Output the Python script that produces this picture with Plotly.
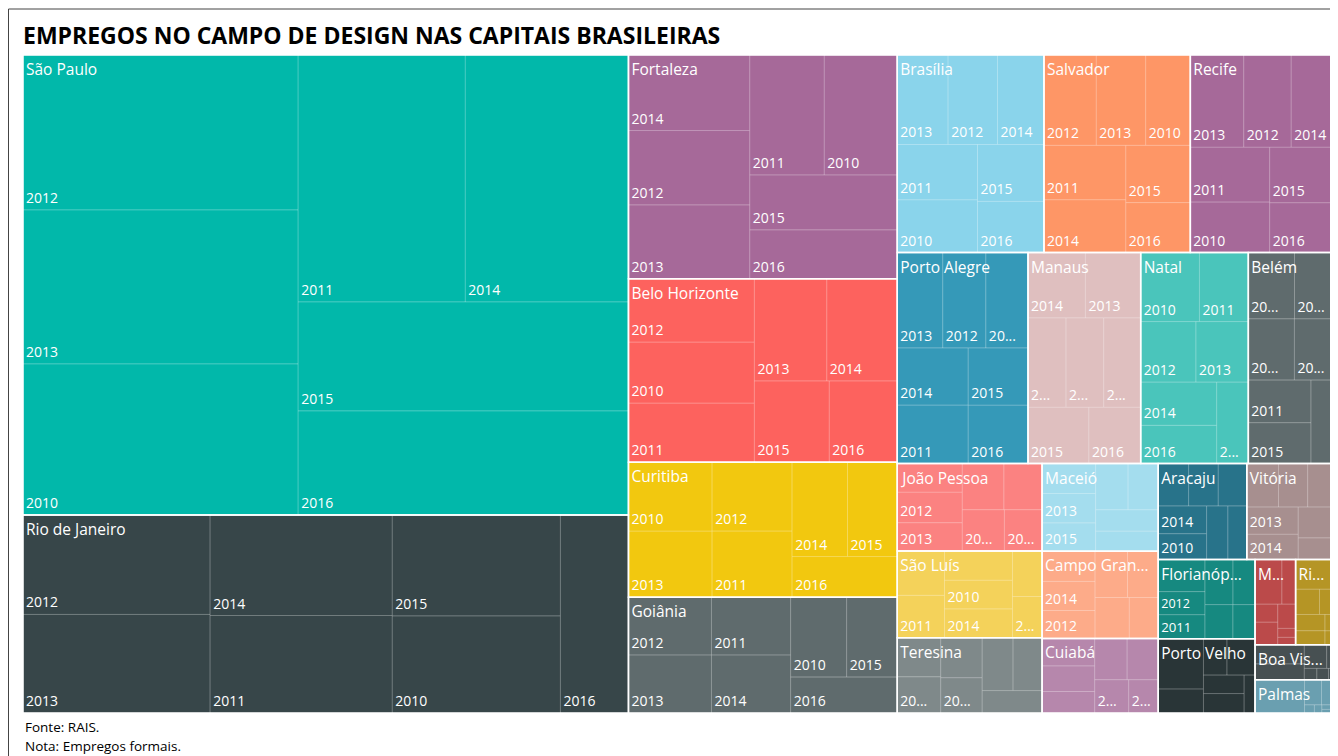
import plotly.graph_objects as go

# capitals in the order the treemap lays them out (largest first)
cities = [
    "São Paulo", "Rio de Janeiro", "Fortaleza", "Belo Horizonte", "Curitiba",
    "Goiânia", "Brasília", "Salvador", "Recife", "Porto Alegre", "Manaus",
    "Natal", "Belém", "João Pessoa", "São Luís", "Teresina", "Maceió",
    "Campo Grande", "Cuiabá", "Aracaju", "Vitória", "Florianópolis",
    "Porto Velho", "Macapá", "Rio Branco", "Boa Vista", "Palmas",
]
# category label as it fits in the tile
city_tags = [
    "São Paulo", "Rio de Janeiro", "Fortaleza", "Belo Horizonte", "Curitiba",
    "Goiânia", "Brasília", "Salvador", "Recife", "Porto Alegre", "Manaus",
    "Natal", "Belém", "João Pessoa", "São Luís", "Teresina", "Maceió",
    "Campo Gran...", "Cuiabá", "Aracaju", "Vitória", "Florianóp...",
    "Porto Velho", "M...", "Ri...", "Boa Vis...", "Palmas",
]
city_colors = [
    "#01B8AA", "#374649", "#A66999", "#FD625E", "#F2C80F",
    "#5F6B6D", "#8AD4EB", "#FE9666", "#A66999", "#3599B8", "#DFBFBF",
    "#4AC5BB", "#5F6B6D", "#FB8281", "#F4D25A", "#7F898A", "#A4DDEE",
    "#FDAB89", "#B687AC", "#28738A", "#A78F8F", "#168980",
    "#293537", "#BB4A4A", "#B59525", "#475052", "#6A9FB0",
]

years = [
    [2012, 2013, 2010, 2011, 2014, 2015, 2016],
    [2012, 2013, 2014, 2011, 2015, 2010, 2016],
    [2014, 2012, 2013, 2011, 2010, 2015, 2016],
    [2012, 2010, 2011, 2013, 2014, 2015, 2016],
    [2010, 2013, 2012, 2011, 2014, 2015, 2016],
    [2012, 2013, 2011, 2014, 2010, 2015, 2016],
    [2013, 2012, 2014, 2011, 2010, 2015, 2016],
    [2012, 2013, 2010, 2011, 2014, 2015, 2016],
    [2013, 2012, 2014, 2011, 2010, 2015, 2016],
    [2013, 2012, 2010, 2014, 2011, 2015, 2016],
    [2014, 2013, 2012, 2011, 2010, 2015, 2016],
    [2010, 2011, 2012, 2013, 2014, 2016, 2015],
    [2013, 2014, 2012, 2010, 2011, 2015, 2016],
    [2014, 2012, 2013, 2011, 2010, 2015, 2016],
    [2012, 2011, 2013, 2010, 2014, 2015, 2016],
    [2012, 2013, 2011, 2010, 2014, 2015, 2016],
    [2012, 2013, 2015, 2010, 2011, 2014, 2016],
    [2013, 2014, 2012, 2011, 2010, 2015, 2016],
    [2012, 2013, 2011, 2014, 2010, 2015, 2016],
    [2012, 2013, 2011, 2014, 2010, 2015, 2016],
    [2012, 2011, 2010, 2013, 2014, 2015, 2016],
    [2014, 2012, 2011, 2013, 2010, 2015, 2016],
    [2013, 2012, 2014, 2011, 2015, 2010, 2016],
    [2013, 2012, 2014, 2011, 2015, 2010, 2016],
    [2013, 2012, 2014, 2011, 2015, 2010, 2016],
    [2013, 2012, 2014, 2011, 2015, 2010, 2016],
    [2013, 2012, 2014, 2011, 2015, 2010, 2016],
]
jobs = [
    [4262, 4235, 4152, 4125, 4026, 3597, 3432],
    [1860, 1843, 1830, 1774, 1697, 1629, 1346],
    [916, 903, 895, 894, 875, 809, 720],
    [798, 768, 742, 740, 719, 608, 551],
    [577, 552, 551, 528, 522, 469, 427],
    [480, 480, 458, 458, 447, 404, 382],
    [455, 442, 415, 444, 423, 378, 340],
    [473, 446, 403, 445, 432, 369, 322],
    [493, 438, 385, 435, 400, 351, 315],
    [434, 411, 402, 406, 414, 342, 348],
    [375, 361, 340, 336, 330, 342, 291],
    [405, 337, 335, 317, 328, 290, 257],
    [306, 255, 282, 236, 267, 256, 183],
    [187, 198, 183, 192, 176, 173, 155],
    [210, 200, 200, 195, 195, 135, 122],
    [170, 157, 166, 146, 163, 153, 134],
    [160, 158, 151, 150, 139, 134, 125],
    [160, 154, 148, 150, 142, 140, 118],
    [145, 134, 113, 134, 128, 113, 98],
    [129, 126, 121, 134, 125, 114, 101],
    [138, 127, 110, 140, 130, 107, 75],
    [150, 108, 112, 126, 99, 95, 75],
    [228, 108, 86, 102, 75, 79, 41],
    [120, 61, 41, 51, 43, 16, 13],
    [111, 60, 34, 48, 41, 13, 11],
    [95, 77, 53, 15, 14, 13, 5],
    [165, 43, 29, 8, 6, 5, 4],
]
# how many characters of each year label fit in its tile (4 = all, 0 = none)
shown = [
    [4, 4, 4, 4, 4, 4, 4],
    [4, 4, 4, 4, 4, 4, 4],
    [4, 4, 4, 4, 4, 4, 4],
    [4, 4, 4, 4, 4, 4, 4],
    [4, 4, 4, 4, 4, 4, 4],
    [4, 4, 4, 4, 4, 4, 4],
    [4, 4, 4, 4, 4, 4, 4],
    [4, 4, 4, 4, 4, 4, 4],
    [4, 4, 4, 4, 4, 4, 4],
    [4, 4, 2, 4, 4, 4, 4],
    [4, 4, 1, 1, 1, 4, 4],
    [4, 4, 4, 4, 4, 4, 1],
    [2, 2, 2, 2, 4, 4, 0],
    [0, 4, 4, 0, 0, 2, 2],
    [0, 4, 0, 4, 4, 0, 1],
    [0, 2, 0, 2, 0, 0, 0],
    [0, 4, 4, 0, 0, 0, 0],
    [0, 4, 4, 0, 0, 0, 0],
    [0, 0, 0, 0, 0, 1, 1],
    [0, 0, 0, 4, 4, 0, 0],
    [0, 0, 0, 4, 4, 0, 0],
    [0, 4, 4, 0, 0, 0, 0],
    [0, 0, 0, 0, 0, 0, 0],
    [0, 0, 0, 0, 0, 0, 0],
    [0, 0, 0, 0, 0, 0, 0],
    [0, 0, 0, 0, 0, 0, 0],
    [0, 0, 0, 0, 0, 0, 0],
]

FONT = "Open Sans"

ids, labels, parents, values, colors, texts, lines = [], [], [], [], [], [], []
for city, color, ys, vs, ks in zip(cities, city_colors, years, jobs, shown):
    ids.append(city)
    labels.append(city)
    parents.append("")
    values.append(0)
    colors.append(color)
    texts.append("")
    lines.append("white")
    for y, v, k in zip(ys, vs, ks):
        s = str(y)
        ids.append(f"{city}/{s}")
        labels.append(s)
        parents.append(city)
        values.append(v)
        colors.append(color)
        lines.append("rgba(255,255,255,0.22)")
        if k >= 4:
            texts.append(s)
        elif k > 0:
            texts.append(s[:k] + "...")
        else:
            texts.append("")

totals = [sum(v) for v in jobs]
tiling = dict(packing="squarify", squarifyratio=1.618034, pad=0)
no_pad = dict(t=0, l=0, r=0, b=0)

fig = go.Figure()

# years inside each capital
fig.add_trace(go.Treemap(
    ids=ids, labels=labels, parents=parents, values=values,
    text=texts, texttemplate="%{text}", textposition="bottom left",
    sort=False, branchvalues="remainder",
    marker=dict(colors=colors, line=dict(color=lines, width=1), pad=no_pad),
    tiling=tiling, pathbar=dict(visible=False), root=dict(color="white"),
    textfont=dict(family=FONT, size=14, color="white"),
    hovertemplate="%{parent} %{label}: %{value}<extra></extra>",
))

# capital names and white borders on top
fig.add_trace(go.Treemap(
    ids=cities, labels=cities, parents=[""] * len(cities), values=totals,
    text=city_tags, texttemplate="%{text}", textposition="top left",
    sort=False,
    marker=dict(colors=["rgba(0,0,0,0)"] * len(cities),
                line=dict(color="white", width=1.5), pad=no_pad),
    tiling=tiling, pathbar=dict(visible=False), root=dict(color="rgba(0,0,0,0)"),
    textfont=dict(family=FONT, size=15.5, color="white"),
    hovertemplate="%{label}: %{value}<extra></extra>",
))

# the page body adds an 8px margin, so the figure is 8px smaller each way
fig.update_layout(
    width=1330, height=748,
    margin=dict(l=15, r=5, t=47, b=43),
    paper_bgcolor="white",
    title=dict(text="<b>EMPREGOS NO CAMPO DE DESIGN NAS CAPITAIS BRASILEIRAS</b>",
               x=15 / 1330, xanchor="left", y=1 - 28 / 748, yanchor="middle",
               font=dict(family=FONT, size=23, color="black")),
    annotations=[
        dict(text="Fonte: RAIS.", x=0, y=-14 / 658, xref="paper", yref="paper",
             xanchor="left", yanchor="middle", showarrow=False,
             font=dict(family=FONT, size=13.5, color="black")),
        dict(text="Nota: Empregos formais.", x=0, y=-33 / 658, xref="paper", yref="paper",
             xanchor="left", yanchor="middle", showarrow=False,
             font=dict(family=FONT, size=13.5, color="black")),
    ],
    shapes=[dict(type="rect", xref="paper", yref="paper",
                 x0=-14.5 / 1310, x1=1330 / 1310, y0=-60 / 658, y1=704 / 658,
                 line=dict(color="#444444", width=1), layer="above")],
)

fig.write_html("out.html")
